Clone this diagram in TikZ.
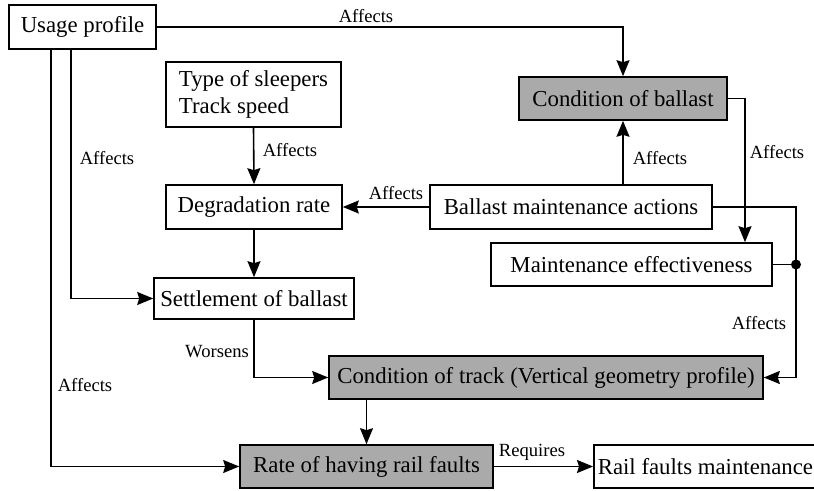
\documentclass[tikz,border=0pt]{standalone}
\usepackage{fontspec}
\setmainfont{Liberation Serif}
\usetikzlibrary{arrows.meta}
\definecolor{boxgray}{RGB}{170,170,170}
\begin{document}
\begin{tikzpicture}[
            x=0.5pt, y=-0.5pt,
            box/.style={draw=black, line width=0.8pt, minimum height=22pt, inner sep=2pt, font=\fontsize{11.4}{13.6}\selectfont},
            keybox/.style={fill=boxgray},
            arr/.style={line width=0.8pt, -{Stealth[length=8pt, width=6.5pt, inset=1pt]}},
            link/.style={line width=0.8pt},
            lbl/.style={font=\fontsize{9.3}{11}\selectfont, inner sep=0pt}
        ]
        \useasboundingbox (0,0) rectangle (814,491);
        \clip (0,0) rectangle (814,491);

        % Left column
        \node[box, minimum width=73.5pt] (usage) at (82.5, 27) {Usage profile};
        \node[box, minimum width=87.5pt, minimum height=32.5pt, align=left] (sleepers) at (253.5, 94.5) {Type of sleepers\\Track speed};
        \node[box, minimum width=88pt] (degr) at (254, 207) {Degradation rate};
        \node[box, minimum width=100pt, minimum height=20.5pt] (settle) at (254, 298.5) {Settlement of ballast};

        % Right column
        \node[box, keybox, minimum width=104pt, minimum height=21.5pt] (cball) at (623, 98.5) {Condition of ballast};
        \node[box, minimum width=141pt] (bma) at (571, 207) {Ballast maintenance actions};
        \node[box, minimum width=140.5pt, minimum height=21.5pt] (meff) at (631.5, 264.5) {Maintenance effectiveness};

        % Bottom
        \node[box, keybox, minimum width=217pt, minimum height=21.5pt] (ctrack) at (546, 377.5) {Condition of track (Vertical geometry profile)};
        \node[box, keybox, minimum width=126.5pt, minimum height=21.5pt] (rate) at (366.5, 466.5) {Rate of having rail faults};
        \node[box, anchor=west, minimum height=21.5pt] (rfm) at (593, 466.5) {\makebox[130pt][l]{Rail faults maintenance}};

        % Turning points
        \coordinate (ua) at (51, 0);
        \coordinate (ub) at (71, 0);
        \coordinate (cx) at (745, 0);
        \coordinate (rx) at (796, 0);

        % Usage profile links
        \draw[arr] (usage.east) -| (cball.north);
        \node[lbl] (l1) at (366, 16) {Affects};
        \draw[arr] (usage.south -| ub) |- (settle.west);
        \node[lbl] (l2) at (107, 158) {Affects};
        \draw[arr] (usage.south -| ua) |- (rate.west);
        \node[lbl] (l3) at (85, 385) {Affects};

        % Degradation chain
        \draw[arr] (sleepers.south) -- (degr.north);
        \node[lbl] (l4) at (290, 150) {Affects};
        \draw[arr] (degr.south) -- (settle.north);
        \draw[arr] (settle.south) |- (ctrack.west);
        \node[lbl] (l5) at (217, 352) {Worsens};

        % Maintenance links
        \draw[arr] (bma.west) -- (degr.east);
        \node[lbl] (l6) at (396, 193) {Affects};
        \draw[arr] (bma.north -| cball) -- (cball.south);
        \node[lbl] (l7) at (660, 158) {Affects};
        \draw[arr] (cball.east) -| (cx |- meff.north);
        \node[lbl] (l8) at (777, 152) {Affects};
        \draw[arr] (bma.east) -| (rx |- ctrack.east) -- (ctrack.east);
        \draw[link] (meff.east) -- (rx |- meff.east);
        \fill (rx |- meff.east) circle (5);
        \node[lbl] (l9) at (759, 323) {Affects};

        % Faults
        \draw[arr] (ctrack.south -| rate) -- (rate.north);
        \draw[arr] (rate.east) -- (rfm.west);
        \node[lbl] (l10) at (532, 452) {Requires};

    \end{tikzpicture}
\end{document}
